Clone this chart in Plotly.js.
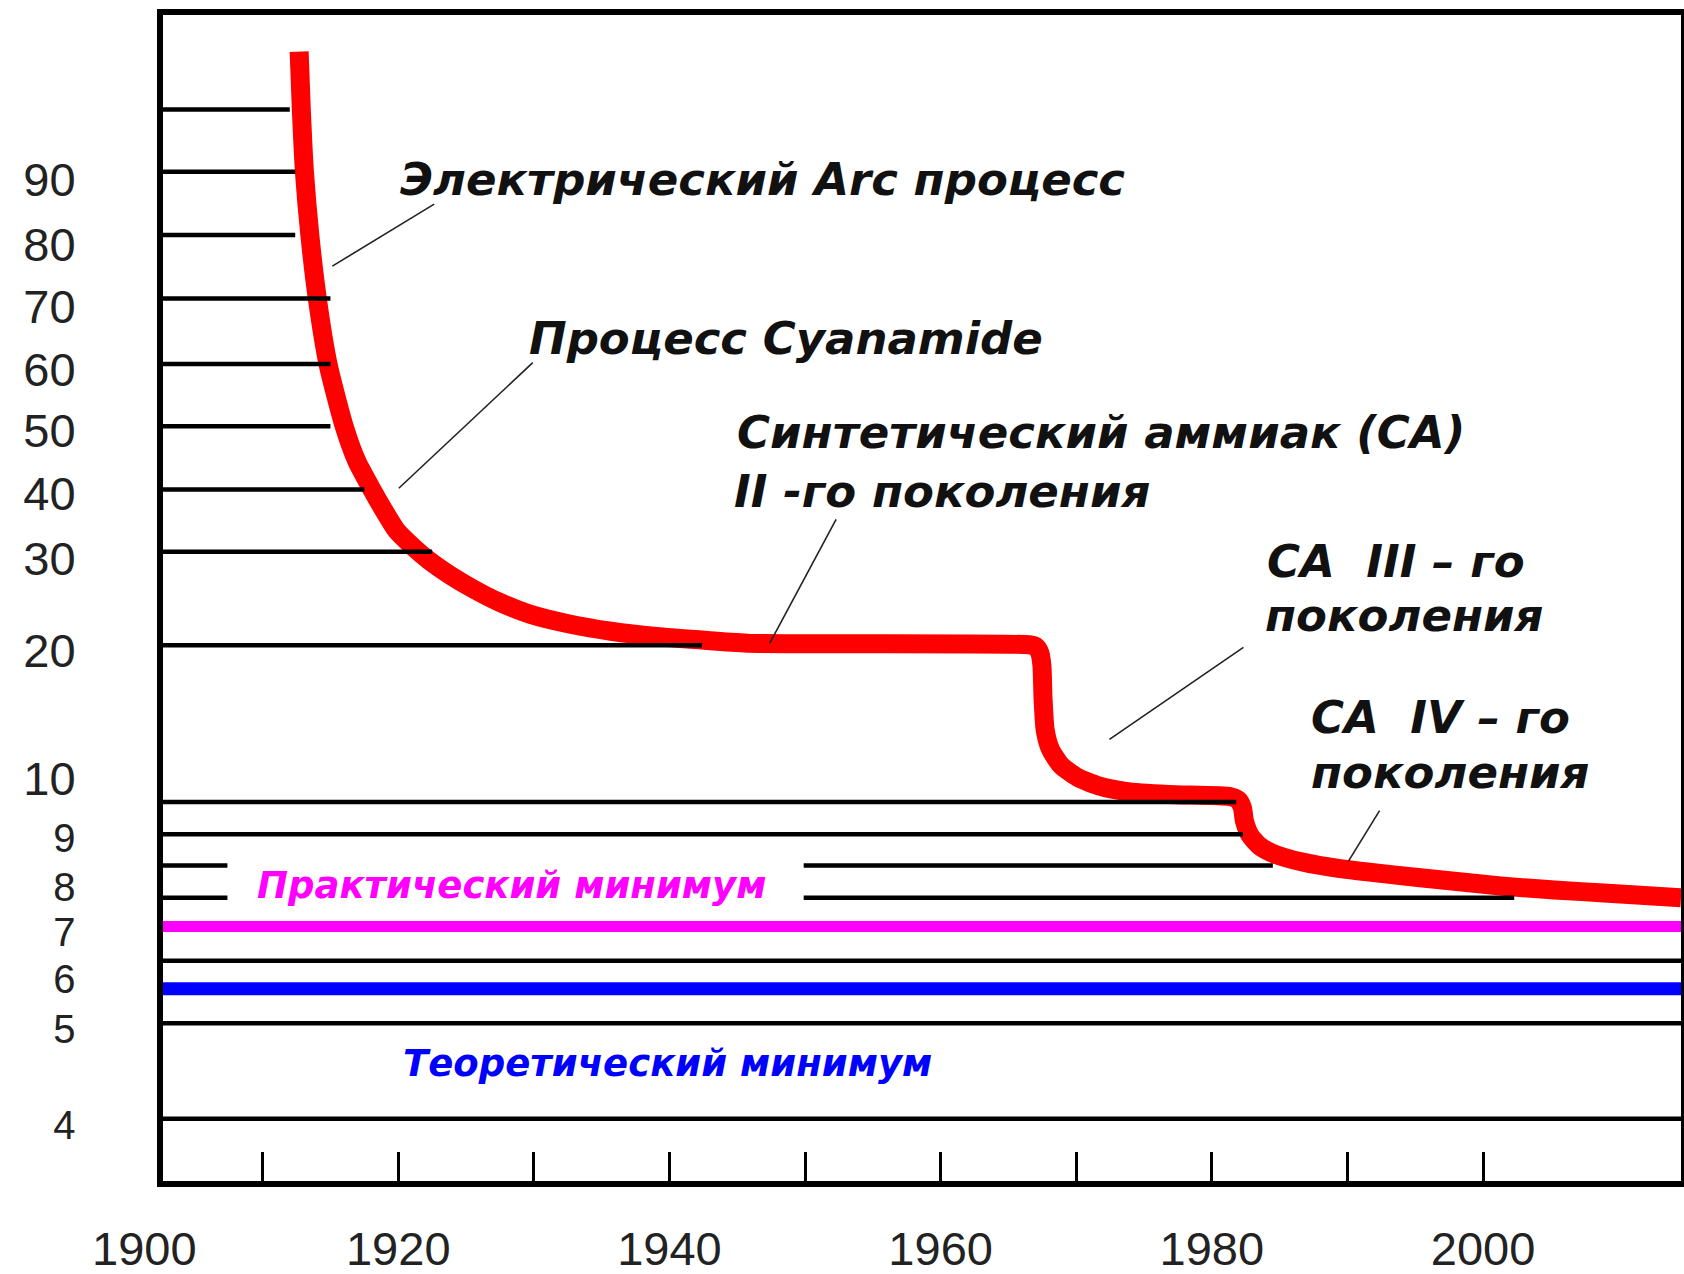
<!DOCTYPE html>
<html>
<head>
<meta charset="utf-8">
<script src="https://cdn.plot.ly/plotly-3.0.1.min.js"></script>
<style>html,body{margin:0;padding:0;background:#fff}#chart{width:1684px;height:1274px}</style>
</head>
<body>
<div id="chart"></div>
<script>
// ---------------- DATA ----------------
// Main red curve: energy consumption per tonne NH3 over time
const curveYears  = [1912.69, 1912.85, 1913.08, 1913.48, 1914.03, 1914.82, 1916.01, 1916.96, 1918.06, 1918.93, 1919.88, 1920.99, 1922.25, 1923.83, 1925.57, 1927.47, 1929.76, 1932.53, 1935.69, 1939.25, 1942.81, 1945.97,
                     1966.52, 1967.0, 1967.31, 1967.47, 1967.55, 1967.71, 1968.10, 1968.89, 1970.08, 1971.66, 1973.64, 1976.80, 1981.38, 1981.94, 1982.25, 1982.41, 1982.81, 1983.52, 1984.70, 1986.68, 1989.45, 1993.40, 1997.35, 2001.30, 2005.26, 2009.21, 2014.6];
const curveValues = [109.3, 100, 90, 80, 70, 60, 50, 44.4, 40, 36.7, 33.4, 31.0, 29.1, 27.5, 26.0, 24.6, 23.3, 22.3, 21.5, 20.9, 20.5, 20.2,
                     20.05, 19.93, 19.52, 18.7, 16.64, 14.59, 13.36, 12.33, 11.58, 11.03, 10.68, 10.48, 10.34, 10.14, 9.83, 9.40, 8.98, 8.75, 8.57, 8.41, 8.27, 8.14, 8.02, 7.90, 7.81, 7.74, 7.64];

// Reference minima
const practicalMin   = 7;
const theoreticalMin = 5.71;

// Horizontal reference lines: value, start year, end year (null = plot edge)
const gridValues = [100, 90, 80, 70, 60, 50, 40, 30, 20, 10, 9, 8.34, 8.34, 7.64, 7.64, 6.29, 5, 4];
const gridFrom   = [null, null, null, null, null, null, null, null, null, null, null, null, 1949.9, null, 1949.9, null, null, null];
const gridTo     = [1912.0, 1912.4, 1912.4, 1915.0, 1915.0, 1915.0, 1917.5, 1922.5, 1942.4, 1981.8, 1982.3, 1907.4, 1984.5, 1907.4, 2002.3, null, null, null];

// Axis labels
const yTickValues = [90, 80, 70, 60, 50, 40, 30, 20, 10, 9, 8, 7, 6, 5, 4];
const yTickLabels = ['90', '80', '70', '60', '50', '40', '30', '20', '10', '9', '8', '7', '6', '5', '4'];
const xTickYears  = [1910, 1920, 1930, 1940, 1950, 1960, 1970, 1980, 1990, 2000];
const xTickLabels = ['', '1920', '', '1940', '', '1960', '', '1980', '', '2000'];
const xFirstLabel = '1900';

// Process labels
const labelTexts = [
  'Электрический Arc процесс',
  'Процесс Cyanamide',
  'Синтетический аммиак (СА)',
  'II -го поколения',
  'СА  III – го',
  'поколения',
  'СА  IV – го',
  'поколения'
];
const minLabelTexts = ['Практический минимум', 'Теоретический минимум'];

// ---------------- CUSTOM (hand-drawn) Y SCALE ----------------
// value -> axis position (the original uses an irregular vertical scale)
const scaleValues = [4, 5, 6, 7, 8, 9, 10, 20, 30, 40, 50, 60, 70, 80, 90, 100];
const scalePos    = [58, 147, 192, 237, 279, 323, 353, 499, 586, 644, 703, 761, 822, 881, 940, 998];
function toAxis(v) {
  const n = scaleValues.length;
  let i;
  if (v <= scaleValues[0]) i = 0;
  else if (v >= scaleValues[n - 1]) i = n - 2;
  else { i = 0; while (scaleValues[i + 1] < v) i++; }
  const v0 = scaleValues[i], v1 = scaleValues[i + 1];
  const p0 = scalePos[i], p1 = scalePos[i + 1];
  return p0 + (v - v0) * (p1 - p0) / (v1 - v0);
}

const X_MIN = 1902.65, X_MAX = 2014.6;
const Y_MIN = 0, Y_MAX = 1086;

// label nudges (original labels sit slightly off their lines)
const yLabelNudge = [-7, -9, -8, -5, -4, -4, -6, -5, 22, -1, -3, -3, -2, -3, -4];

// ---------------- TRACES ----------------
const traces = [];

traces.push({
  x: curveYears, y: curveValues.map(toAxis),
  mode: 'lines', line: {color: '#ff0000', width: 19, shape: 'spline', smoothing: 0.6},
  hoverinfo: 'skip', showlegend: false
});

const gx = [], gy = [];
gridValues.forEach((v, i) => {
  gx.push(gridFrom[i] == null ? X_MIN : gridFrom[i], gridTo[i] == null ? X_MAX : gridTo[i], null);
  gy.push(toAxis(v), toAxis(v), null);
});
traces.push({x: gx, y: gy, mode: 'lines', line: {color: '#000', width: 4.5}, hoverinfo: 'skip', showlegend: false, connectgaps: false});

traces.push({x: [X_MIN, X_MAX], y: [toAxis(practicalMin), toAxis(practicalMin)], mode: 'lines', line: {color: '#ff00ff', width: 11}, hoverinfo: 'skip', showlegend: false});
traces.push({x: [X_MIN, X_MAX], y: [toAxis(theoreticalMin), toAxis(theoreticalMin)], mode: 'lines', line: {color: '#0000ff', width: 13}, hoverinfo: 'skip', showlegend: false});

// ---------------- ANNOTATIONS ----------------
const labelFont = {family: 'DejaVu Sans, sans-serif', size: 45, color: '#111', weight: 'bold', style: 'italic'};
const labelPos = [
  [1920.0, 88.8], [1929.5, 63.9], [1944.8, 49.0], [1944.6, 39.7],
  [1983.9, 29.0], [1983.8, 23.2], [1987.2, 15.4], [1987.2, 11.9]
];
const annotations = labelTexts.map((t, i) => ({
  x: labelPos[i][0], y: toAxis(labelPos[i][1]), xref: 'x', yref: 'y',
  text: t, showarrow: false, xanchor: 'left', yanchor: 'middle', font: labelFont
}));
const minFont = {family: 'DejaVu Sans, sans-serif', size: 37, weight: 'bold', style: 'italic'};
annotations.push({x: 1909.45, y: toAxis(7.9), xref: 'x', yref: 'y', text: minLabelTexts[0], showarrow: false,
  xanchor: 'left', yanchor: 'middle', font: Object.assign({}, minFont, {color: '#ff00ff'})});
annotations.push({x: 1920.2, y: toAxis(4.58), xref: 'x', yref: 'y', text: minLabelTexts[1], showarrow: false,
  xanchor: 'left', yanchor: 'middle', font: Object.assign({}, minFont, {color: '#0000ff'})});

// first x label (drawn just left of the frame in the original)
annotations.push({x: (1901.3 - X_MIN) / (X_MAX - X_MIN), y: 0, xref: 'paper', yref: 'paper',
  text: xFirstLabel, showarrow: false, xanchor: 'center', yanchor: 'top', yshift: -39,
  font: {family: 'Liberation Sans, Arial, sans-serif', size: 47, color: '#222'}});

// leader lines
const leaders = [
  [1922.65, 84.9, 1915.14, 75.1],
  [1929.92, 60.2, 1920.04, 40.2],
  [1952.29, 35.2, 1947.39, 20.2],
  [1982.33, 19.86, 1972.45, 14.0],
  [1992.37, 9.73, 1990.08, 8.43]
];
const shapes = leaders.map(l => ({
  type: 'line', xref: 'x', yref: 'y', x0: l[0], y0: toAxis(l[1]), x1: l[2], y1: toAxis(l[3]),
  line: {color: '#222', width: 1.6}
}));

const layout = {
  width: 1684, height: 1274,
  margin: {l: 163, r: 3, t: 15, b: 93},
  paper_bgcolor: '#fff', plot_bgcolor: '#fff',
  showlegend: false,
  xaxis: {
    range: [X_MIN, X_MAX], showgrid: false, zeroline: false,
    showline: true, linecolor: '#000', linewidth: 6, mirror: true,
    ticks: 'inside', ticklen: 29, tickwidth: 3, tickcolor: '#000',
    tickmode: 'array', tickvals: xTickYears, ticktext: xTickLabels,
    ticklabelstandoff: 22,
    tickfont: {family: 'Liberation Sans, Arial, sans-serif', size: 47, color: '#222'}
  },
  yaxis: {
    range: [Y_MIN, Y_MAX], showgrid: false, zeroline: false,
    showline: true, linecolor: '#000', linewidth: 6, mirror: true,
    ticks: '', tickmode: 'array',
    tickvals: yTickValues.map((v, i) => toAxis(v) + yLabelNudge[i]),
    ticktext: yTickLabels.map(t => t.length === 1 ? '<span style="font-size:40px">' + t + '</span>' : t),
    ticklabelstandoff: 72,
    tickfont: {family: 'Liberation Sans, Arial, sans-serif', size: 47, color: '#222'}
  },
  annotations: annotations,
  shapes: shapes
};

Plotly.newPlot('chart', traces, layout, {staticPlot: true, displayModeBar: false});
</script>
</body>
</html>
